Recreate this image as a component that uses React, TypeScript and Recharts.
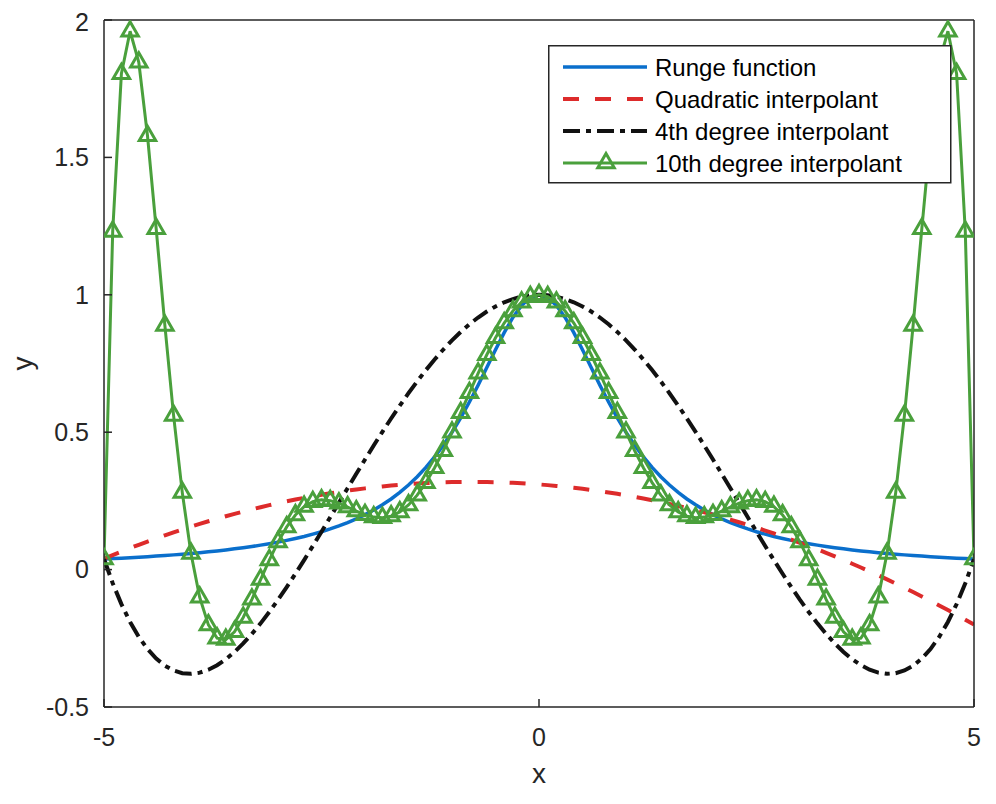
import React from 'react';
import { LineChart, Line, XAxis, YAxis, Legend } from 'recharts';

const xs = [
  -5.0, -4.9, -4.8, -4.7, -4.6, -4.5, -4.4, -4.3, -4.2, -4.1,
  -4.0, -3.9, -3.8, -3.7, -3.6, -3.5, -3.4, -3.3, -3.2, -3.1,
  -3.0, -2.9, -2.8, -2.7, -2.6, -2.5, -2.4, -2.3, -2.2, -2.1,
  -2.0, -1.9, -1.8, -1.7, -1.6, -1.5, -1.4, -1.3, -1.2, -1.1,
  -1.0, -0.9, -0.8, -0.7, -0.6, -0.5, -0.4, -0.3, -0.2, -0.1,
  0.0,
  0.1, 0.2, 0.3, 0.4, 0.5, 0.6, 0.7, 0.8, 0.9, 1.0,
  1.1, 1.2, 1.3, 1.4, 1.5, 1.6, 1.7, 1.8, 1.9, 2.0,
  2.1, 2.2, 2.3, 2.4, 2.5, 2.6, 2.7, 2.8, 2.9, 3.0,
  3.1, 3.2, 3.3, 3.4, 3.5, 3.6, 3.7, 3.8, 3.9, 4.0,
  4.1, 4.2, 4.3, 4.4, 4.5, 4.6, 4.7, 4.8, 4.9, 5.0,
];

const runge = [
  0.0385, 0.0400, 0.0416, 0.0433, 0.0451, 0.0471, 0.0491, 0.0513, 0.0536, 0.0561,
  0.0588, 0.0617, 0.0648, 0.0681, 0.0716, 0.0755, 0.0796, 0.0841, 0.0890, 0.0942,
  0.1000, 0.1063, 0.1131, 0.1206, 0.1289, 0.1379, 0.1479, 0.1590, 0.1712, 0.1848,
  0.2000, 0.2169, 0.2358, 0.2571, 0.2809, 0.3077, 0.3378, 0.3717, 0.4098, 0.4525,
  0.5000, 0.5525, 0.6098, 0.6711, 0.7353, 0.8000, 0.8621, 0.9174, 0.9615, 0.9901,
  1.0000,
  0.9901, 0.9615, 0.9174, 0.8621, 0.8000, 0.7353, 0.6711, 0.6098, 0.5525, 0.5000,
  0.4525, 0.4098, 0.3717, 0.3378, 0.3077, 0.2809, 0.2571, 0.2358, 0.2169, 0.2000,
  0.1848, 0.1712, 0.1590, 0.1479, 0.1379, 0.1289, 0.1206, 0.1131, 0.1063, 0.1000,
  0.0942, 0.0890, 0.0841, 0.0796, 0.0755, 0.0716, 0.0681, 0.0648, 0.0617, 0.0588,
  0.0561, 0.0536, 0.0513, 0.0491, 0.0471, 0.0451, 0.0433, 0.0416, 0.0400, 0.0385,
];

const quadratic = [
  0.0400, 0.0530, 0.0658, 0.0782, 0.0903, 0.1021, 0.1136, 0.1248, 0.1356, 0.1462,
  0.1564, 0.1663, 0.1759, 0.1852, 0.1942, 0.2029, 0.2113, 0.2193, 0.2271, 0.2345,
  0.2416, 0.2484, 0.2549, 0.2611, 0.2669, 0.2725, 0.2777, 0.2827, 0.2873, 0.2916,
  0.2956, 0.2993, 0.3027, 0.3057, 0.3085, 0.3109, 0.3130, 0.3148, 0.3163, 0.3175,
  0.3184, 0.3190, 0.3192, 0.3192, 0.3188, 0.3181, 0.3171, 0.3158, 0.3142, 0.3122,
  0.3100,
  0.3074, 0.3046, 0.3014, 0.2979, 0.2941, 0.2900, 0.2856, 0.2808, 0.2758, 0.2704,
  0.2647, 0.2587, 0.2524, 0.2458, 0.2389, 0.2317, 0.2241, 0.2163, 0.2081, 0.1996,
  0.1908, 0.1817, 0.1723, 0.1625, 0.1525, 0.1421, 0.1315, 0.1205, 0.1092, 0.0976,
  0.0857, 0.0735, 0.0609, 0.0481, 0.0349, 0.0214, 0.0076, -0.0065, -0.0209, -0.0356,
  -0.0506, -0.0660, -0.0816, -0.0976, -0.1139, -0.1305, -0.1474, -0.1646, -0.1822, -0.2000,
];

const quartic = [
  0.0385, -0.0496, -0.1257, -0.1906, -0.2449, -0.2891, -0.3239, -0.3497, -0.3672, -0.3769,
  -0.3793, -0.3750, -0.3643, -0.3479, -0.3263, -0.2997, -0.2688, -0.2340, -0.1957, -0.1542,
  -0.1101, -0.0636, -0.0152, 0.0347, 0.0859, 0.1379, 0.1905, 0.2434, 0.2962, 0.3487,
  0.4005, 0.4515, 0.5014, 0.5499, 0.5968, 0.6419, 0.6850, 0.7260, 0.7646, 0.8008,
  0.8342, 0.8649, 0.8927, 0.9174, 0.9391, 0.9576, 0.9728, 0.9846, 0.9932, 0.9983,
  1.0000,
  0.9983, 0.9932, 0.9846, 0.9728, 0.9576, 0.9391, 0.9174, 0.8927, 0.8649, 0.8342,
  0.8008, 0.7646, 0.7260, 0.6850, 0.6419, 0.5968, 0.5499, 0.5014, 0.4515, 0.4005,
  0.3487, 0.2962, 0.2434, 0.1905, 0.1379, 0.0859, 0.0347, -0.0152, -0.0636, -0.1101,
  -0.1542, -0.1957, -0.2340, -0.2688, -0.2997, -0.3263, -0.3479, -0.3643, -0.3750, -0.3793,
  -0.3769, -0.3672, -0.3497, -0.3239, -0.2891, -0.2449, -0.1906, -0.1257, -0.0496, 0.0385,
];

const tenth = [
  0.0385, 1.2303, 1.8044, 1.9590, 1.8459, 1.5787, 1.2402, 0.8881, 0.5604, 0.2802,
  0.0588, -0.1007, -0.2013, -0.2496, -0.2546, -0.2262, -0.1743, -0.1083, -0.0363, 0.0348,
  0.1000, 0.1554, 0.1987, 0.2292, 0.2472, 0.2537, 0.2510, 0.2415, 0.2278, 0.2130,
  0.2000, 0.1911, 0.1888, 0.1946, 0.2099, 0.2354, 0.2710, 0.3165, 0.3708, 0.4326,
  0.5000, 0.5710, 0.6432, 0.7142, 0.7818, 0.8434, 0.8971, 0.9409, 0.9733, 0.9933,
  1.0000,
  0.9933, 0.9733, 0.9409, 0.8971, 0.8434, 0.7818, 0.7142, 0.6432, 0.5710, 0.5000,
  0.4326, 0.3708, 0.3165, 0.2710, 0.2354, 0.2099, 0.1946, 0.1888, 0.1911, 0.2000,
  0.2130, 0.2278, 0.2415, 0.2510, 0.2537, 0.2472, 0.2292, 0.1987, 0.1554, 0.1000,
  0.0348, -0.0363, -0.1083, -0.1743, -0.2262, -0.2546, -0.2496, -0.2013, -0.1007, 0.0588,
  0.2802, 0.5604, 0.8881, 1.2402, 1.5787, 1.8459, 1.9590, 1.8044, 1.2303, 0.0385,
];

const xTicks = [-5, 0, 5];
const yTicks = [-0.5, 0, 0.5, 1, 1.5, 2];
const seriesNames = ['Runge function', 'Quadratic interpolant', '4th degree interpolant', '10th degree interpolant'];

const data = xs.map((x, i) => ({
  x,
  runge: runge[i],
  quad: quadratic[i],
  p4: quartic[i],
  p10: tenth[i],
}));

const FONT = '"Liberation Sans", Arial, Helvetica, sans-serif';
const AXIS = '#262626';
const BLUE = '#0a6fcc';
const RED = '#dd2b2b';
const BLACK = '#111111';
const GREEN = '#4aa03c';

const styles = [
  { color: BLUE, width: 3.5, dash: undefined as string | undefined },
  { color: RED, width: 4, dash: '16 16' },
  { color: BLACK, width: 4, dash: '17 6 5 6' },
  { color: GREEN, width: 3, dash: undefined as string | undefined },
];

const tri = (cx: number, cy: number, r = 9.5) => {
  const h = r * 0.866;
  return `${cx},${cy - r} ${cx + h},${cy + r / 2} ${cx - h},${cy + r / 2}`;
};

const TriangleDot = (props: any) => {
  const { cx, cy, index } = props;
  if (cx == null || cy == null) return <g key={index} />;
  return (
    <polygon
      key={index}
      points={tri(cx, cy)}
      fill="none"
      stroke={GREEN}
      strokeWidth={3}
    />
  );
};

const LegendBox = () => (
  <svg width={404} height={139} style={{ display: 'block', fontFamily: FONT }}>
    <rect x={0.75} y={0.75} width={402} height={137} fill="#ffffff" stroke={AXIS} strokeWidth={1.5} />
    {seriesNames.map((name, i) => {
      const y = 22 + i * 32;
      const s = styles[i];
      return (
        <g key={name}>
          <line x1={15} x2={99} y1={y} y2={y} stroke={s.color} strokeWidth={s.width} strokeDasharray={s.dash} />
          {i === 3 && <polygon points={tri(58, y)} fill="none" stroke={GREEN} strokeWidth={3} />}
          <text x={107} y={y} dominantBaseline="central" fontSize={24} fill="#000">
            {name}
          </text>
        </g>
      );
    })}
  </svg>
);

export default function App() {
  return (
    <div style={{ width: 980, height: 790, fontFamily: FONT }}>
      <LineChart
        width={980}
        height={790}
        data={data}
        margin={{ top: 11, right: 13, bottom: 31, left: 36 }}
      >
        <XAxis
          xAxisId="b"
          dataKey="x"
          type="number"
          domain={[-5, 5]}
          ticks={xTicks}
          height={60}
          tickSize={-8}
          tickMargin={29}
          stroke={AXIS}
          axisLine={{ stroke: AXIS, strokeWidth: 1.5 }}
          tickLine={{ stroke: AXIS, strokeWidth: 1.5 }}
          tick={{ fontSize: 25, fill: AXIS, fontFamily: FONT }}
          allowDataOverflow
          label={{
            content: (p: any) => {
              const vb = p.viewBox || { x: 96, y: 699, width: 870 };
              return (
                <text x={vb.x + vb.width / 2} y={vb.y + 66} textAnchor="middle" dominantBaseline="central" fontSize={28} fill={AXIS} fontFamily={FONT}>
                  x
                </text>
              );
            },
          }}
        />
        <XAxis
          xAxisId="t"
          orientation="top"
          dataKey="x"
          type="number"
          domain={[-5, 5]}
          ticks={xTicks}
          height={1}
          tickSize={-8}
          tick={false}
          axisLine={{ stroke: AXIS, strokeWidth: 1.5 }}
          tickLine={{ stroke: AXIS, strokeWidth: 1.5 }}
          allowDataOverflow
        />
        <YAxis
          yAxisId="l"
          type="number"
          domain={[-0.5, 2]}
          ticks={yTicks}
          width={60}
          tickSize={-8}
          tickMargin={23}
          axisLine={{ stroke: AXIS, strokeWidth: 1.5 }}
          tickLine={{ stroke: AXIS, strokeWidth: 1.5 }}
          tick={{ fontSize: 25, fill: AXIS, fontFamily: FONT }}
          allowDataOverflow
          label={{
            content: (p: any) => {
              const vb = p.viewBox || { x: 36, y: 12, height: 687 };
              const cx = vb.x - 22;
              const cy = vb.y + vb.height / 2;
              return (
                <text x={cx} y={cy} transform={`rotate(-90 ${cx} ${cy})`} textAnchor="middle" dominantBaseline="central" fontSize={28} fill={AXIS} fontFamily={FONT}>
                  y
                </text>
              );
            },
          }}
        />
        <YAxis
          yAxisId="r"
          orientation="right"
          type="number"
          domain={[-0.5, 2]}
          ticks={yTicks}
          width={1}
          tickSize={-8}
          tick={false}
          axisLine={{ stroke: AXIS, strokeWidth: 1.5 }}
          tickLine={{ stroke: AXIS, strokeWidth: 1.5 }}
          allowDataOverflow
        />
        <Line
          xAxisId="b"
          yAxisId="l"
          type="linear"
          dataKey="runge"
          name={seriesNames[0]}
          stroke={BLUE}
          strokeWidth={3.5}
          dot={false}
          isAnimationActive={false}
        />
        <Line
          xAxisId="b"
          yAxisId="l"
          type="linear"
          dataKey="quad"
          name={seriesNames[1]}
          stroke={RED}
          strokeWidth={4}
          strokeDasharray="16 16"
          dot={false}
          isAnimationActive={false}
        />
        <Line
          xAxisId="b"
          yAxisId="l"
          type="linear"
          dataKey="p4"
          name={seriesNames[2]}
          stroke={BLACK}
          strokeWidth={4}
          strokeDasharray="17 6 5 6"
          dot={false}
          isAnimationActive={false}
        />
        <Line
          xAxisId="b"
          yAxisId="l"
          type="linear"
          dataKey="p10"
          name={seriesNames[3]}
          stroke={GREEN}
          strokeWidth={3}
          dot={TriangleDot}
          activeDot={false}
          isAnimationActive={false}
        />
        <Legend
          layout="vertical"
          align="center"
          verticalAlign="middle"
          content={() => <LegendBox />}
          wrapperStyle={{ position: 'absolute', left: 540, top: 37, width: 404, height: 139 }}
        />
      </LineChart>
    </div>
  );
}
